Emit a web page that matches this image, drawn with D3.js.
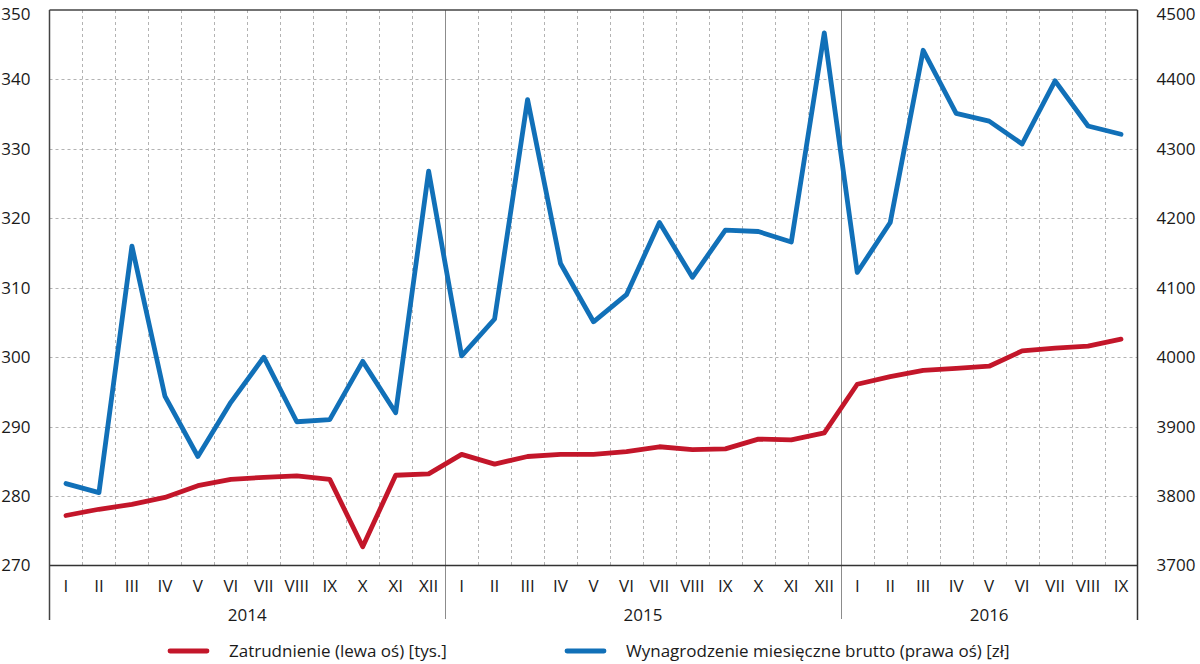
<!DOCTYPE html>
<html>
<head>
<meta charset="utf-8">
<script src="https://cdn.jsdelivr.net/npm/d3@7"></script>
<style>
  html, body { margin: 0; padding: 0; background: #fff; }
  svg { display: block; font-family: "Open Sans", "Noto Sans", sans-serif; }
</style>
</head>
<body>
<svg id="chart" width="1200" height="664"></svg>
<script>
const years = ["2014", "2015", "2016"];
const monthsPerYear = [12, 12, 9];
const monthLabels = ["I","II","III","IV","V","VI","VII","VIII","IX","X","XI","XII"];

const employment = [
  277.2, 278.1, 278.8, 279.8, 281.5, 282.4, 282.7, 282.9, 282.4, 272.7, 283.0, 283.2,
  286.0, 284.6, 285.7, 286.0, 286.0, 286.4, 287.1, 286.7, 286.8, 288.2, 288.1, 289.1,
  296.1, 297.2, 298.1, 298.4, 298.7, 300.9, 301.3, 301.6, 302.6
];
const wages = [
  3818, 3805, 4160, 3944, 3857, 3935, 4000, 3907, 3910, 3994, 3920, 4268,
  4002, 4055, 4371, 4135, 4051, 4090, 4194, 4115, 4183, 4181, 4166, 4467,
  4122, 4194, 4442, 4351, 4340, 4307, 4398, 4333, 4321
];
const leftTicks = [270, 280, 290, 300, 310, 320, 330, 340, 350];
const rightTicks = [3700, 3800, 3900, 4000, 4100, 4200, 4300, 4400, 4500];
const seriesNames = ["Zatrudnienie (lewa oś) [tys.]", "Wynagrodzenie miesięczne brutto (prawa oś) [zł]"];
const seriesColors = ["#c3162a", "#1170b8"];

const FS = 17;

// build categories
const cats = [];
years.forEach((y, yi) => {
  for (let m = 0; m < monthsPerYear[yi]; m++) cats.push({ key: y + "-" + m, year: y, month: monthLabels[m] });
});

const svg = d3.select("#chart");
const L = 49.5, R = 1137.5, T = 10, B = 565.5;

const x = d3.scaleBand().domain(cats.map(d => d.key)).range([L, R]).padding(0);
const yL = d3.scaleLinear().domain([270, 350]).range([B, T]);
const yR = d3.scaleLinear().domain([3700, 4500]).range([B, T]);

// horizontal grid
svg.append("g").selectAll("line").data(leftTicks.slice(1, -1)).join("line")
  .attr("x1", L).attr("x2", R)
  .attr("y1", d => Math.round(yL(d)) + 0.5).attr("y2", d => Math.round(yL(d)) + 0.5)
  .attr("stroke", "#b3b3b3").attr("stroke-width", 1).attr("stroke-dasharray", "3,3");

// vertical grid (between months)
const boundaries = [];
let idx = 0;
const yearStarts = [];
years.forEach((y, yi) => { yearStarts.push(idx); idx += monthsPerYear[yi]; });
for (let i = 1; i < cats.length; i++) boundaries.push(i);
svg.append("g").selectAll("line").data(boundaries.filter(i => !yearStarts.includes(i))).join("line")
  .attr("x1", i => Math.round(x(cats[i].key)) + 0.5).attr("x2", i => Math.round(x(cats[i].key)) + 0.5)
  .attr("y1", T).attr("y2", B)
  .attr("stroke", "#b3b3b3").attr("stroke-width", 1).attr("stroke-dasharray", "3,3");

// year separators (solid, extend below axis)
svg.append("g").selectAll("line").data(yearStarts.slice(1)).join("line")
  .attr("x1", i => Math.round(x(cats[i].key)) + 0.5).attr("x2", i => Math.round(x(cats[i].key)) + 0.5)
  .attr("y1", T).attr("y2", 619)
  .attr("stroke", "#8c8c8c").attr("stroke-width", 1);

// frame
svg.append("line").attr("x1", L).attr("x2", R).attr("y1", T).attr("y2", T).attr("stroke", "#444").attr("stroke-width", 1.5);
svg.append("line").attr("x1", L).attr("x2", R).attr("y1", B).attr("y2", B).attr("stroke", "#333").attr("stroke-width", 1.5);
svg.append("line").attr("x1", L).attr("x2", L).attr("y1", T).attr("y2", 620).attr("stroke", "#444").attr("stroke-width", 1.5);
svg.append("line").attr("x1", R).attr("x2", R).attr("y1", T).attr("y2", 620).attr("stroke", "#333").attr("stroke-width", 1.5);

// left axis labels
const leftAxis = d3.axisLeft(yL).tickValues(leftTicks).tickSize(0).tickPadding(19).tickFormat(d3.format("d"));
const gl = svg.append("g").attr("transform", `translate(${L},0)`).call(leftAxis);
gl.select(".domain").remove();
gl.selectAll("text").attr("font-size", FS).attr("fill", "#1a1a1a").attr("font-family", "'Open Sans', sans-serif");

// right axis labels
const rightAxis = d3.axisRight(yR).tickValues(rightTicks).tickSize(0).tickPadding(19).tickFormat(d3.format("d"));
const gr = svg.append("g").attr("transform", `translate(${R},0)`).call(rightAxis);
gr.select(".domain").remove();
gr.selectAll("text").attr("font-size", FS).attr("fill", "#1a1a1a").attr("font-family", "'Open Sans', sans-serif");

// nudge top-most labels down so they stay inside the page
[gl, gr].forEach(g => g.selectAll(".tick").filter((d, i, n) => i === n.length - 1)
  .select("text").attr("dy", "0.55em"));

// month labels
const bottomAxis = d3.axisBottom(x).tickSize(0).tickPadding(14).tickFormat(k => cats.find(c => c.key === k).month);
const gb = svg.append("g").attr("transform", `translate(0,${B})`).call(bottomAxis);
gb.select(".domain").remove();
gb.selectAll("text").attr("font-size", FS).attr("fill", "#1a1a1a").attr("font-family", "'Open Sans', sans-serif");

// year labels
svg.append("g").selectAll("text").data(years).join("text")
  .attr("x", (y, yi) => {
    const s = yearStarts[yi], e = s + monthsPerYear[yi] - 1;
    return (x(cats[s].key) + x(cats[e].key) + x.bandwidth()) / 2;
  })
  .attr("y", 621)
  .attr("text-anchor", "middle")
  .attr("font-size", FS).attr("fill", "#1a1a1a")
  .text(d => d);

const cx = (d, i) => x(cats[i].key) + x.bandwidth() / 2;

// lines
svg.append("path").datum(wages)
  .attr("fill", "none").attr("stroke", seriesColors[1]).attr("stroke-width", 4.8)
  .attr("stroke-linejoin", "round").attr("stroke-linecap", "round")
  .attr("d", d3.line().x(cx).y(d => yR(d)));

svg.append("path").datum(employment)
  .attr("fill", "none").attr("stroke", seriesColors[0]).attr("stroke-width", 4.8)
  .attr("stroke-linejoin", "round").attr("stroke-linecap", "round")
  .attr("d", d3.line().x(cx).y(d => yL(d)));

// legend
const legendItems = [
  { name: seriesNames[0], color: seriesColors[0], x0: 170 },
  { name: seriesNames[1], color: seriesColors[1], x0: 567 }
];
const lg = svg.append("g").selectAll("g").data(legendItems).join("g")
  .attr("transform", d => `translate(${d.x0},651)`);
lg.append("line").attr("x1", 0).attr("x2", 37).attr("y1", 0).attr("y2", 0)
  .attr("stroke", d => d.color).attr("stroke-width", 4.8).attr("stroke-linecap", "round");
lg.append("text").attr("x", 59).attr("y", 6)
  .attr("font-size", FS).attr("fill", "#1a1a1a")
  .text(d => d.name);
</script>
</body>
</html>
